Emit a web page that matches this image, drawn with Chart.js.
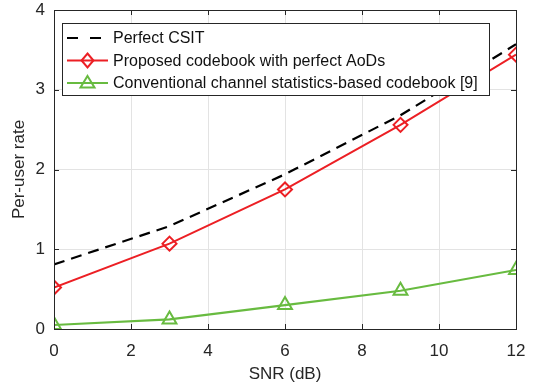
<!DOCTYPE html>
<html>
<head>
<meta charset="utf-8">
<script src="https://cdn.jsdelivr.net/npm/chart.js@4.4.1/dist/chart.umd.min.js"></script>
<style>
  html, body { margin: 0; padding: 0; background: #fff; }
  #wrap { width: 541px; height: 390px; }
</style>
</head>
<body>
<div id="wrap"><canvas id="chart" width="541" height="390"></canvas></div>
<script>
// data
const snr = [0, 3, 6, 9, 12];
const perfectCsit = [0.81, 1.29, 1.94, 2.68, 3.57];
const proposed = [0.52, 1.07, 1.75, 2.56, 3.44];
const conventional = [0.05, 0.12, 0.30, 0.48, 0.74];
const labels = [
  "Perfect CSIT",
  "Proposed codebook with perfect AoDs",
  "Conventional channel statistics-based codebook [9]"
];

const axisColor = "#262626";
const FONT = "'Liberation Sans', Arial, sans-serif";

function pts(ys) {
  return snr.map((x, i) => ({ x: x, y: ys[i] }));
}

// box around the axes + inward ticks, MATLAB style
const framePlugin = {
  id: "frame",
  afterDatasetsDraw(chart) {
    const { ctx, chartArea: a, scales } = chart;
    ctx.save();
    ctx.strokeStyle = axisColor;
    ctx.lineWidth = 1;
    ctx.strokeRect(a.left + 0.5, a.top + 0.5, a.right - a.left, a.bottom - a.top);
    const t = 5;
    ctx.beginPath();
    scales.x.ticks.forEach((tk) => {
      const px = Math.round(scales.x.getPixelForValue(tk.value)) + 0.5;
      ctx.moveTo(px, a.bottom); ctx.lineTo(px, a.bottom - t);
      ctx.moveTo(px, a.top); ctx.lineTo(px, a.top + t);
    });
    scales.y.ticks.forEach((tk) => {
      const py = Math.round(scales.y.getPixelForValue(tk.value)) + 0.5;
      ctx.moveTo(a.left, py); ctx.lineTo(a.left + t, py);
      ctx.moveTo(a.right, py); ctx.lineTo(a.right - t, py);
    });
    ctx.stroke();
    ctx.restore();
  }
};

// legend box drawn inside the plot, top-left
const legendPlugin = {
  id: "boxLegend",
  afterDraw(chart) {
    const { ctx, chartArea: a } = chart;
    const x0 = a.left + 8, y0 = a.top + 13, w = 427, h = 72;
    ctx.save();
    ctx.fillStyle = "#fff";
    ctx.fillRect(x0, y0, w, h);
    ctx.strokeStyle = axisColor;
    ctx.lineWidth = 1;
    ctx.strokeRect(x0 + 0.5, y0 + 0.5, w, h);
    ctx.font = "16px " + FONT;
    ctx.textBaseline = "middle";
    chart.data.datasets.forEach((ds, i) => {
      const y = y0 + 15 + i * 22.5;
      const lx0 = x0 + 5, lx1 = x0 + 46;
      ctx.strokeStyle = ds.borderColor;
      ctx.lineWidth = 2;
      ctx.setLineDash(ds.borderDash ? [11, 12] : []);
      ctx.beginPath();
      ctx.moveTo(lx0, y); ctx.lineTo(lx1, y);
      ctx.stroke();
      ctx.setLineDash([]);
      const mx = (lx0 + lx1) / 2;
      if (ds.pointStyle === "rectRot") {
        const r = 7;
        ctx.beginPath();
        ctx.moveTo(mx, y - r); ctx.lineTo(mx + r * 0.85, y);
        ctx.lineTo(mx, y + r); ctx.lineTo(mx - r * 0.85, y);
        ctx.closePath();
        ctx.stroke();
      } else if (ds.pointStyle === "triangle") {
        const r = 7;
        ctx.beginPath();
        ctx.moveTo(mx, y - r); ctx.lineTo(mx + r, y + r * 0.65);
        ctx.lineTo(mx - r, y + r * 0.65);
        ctx.closePath();
        ctx.stroke();
      }
      ctx.fillStyle = "#111";
      ctx.fillText(labels[i], x0 + 51, y + 1);
    });
    ctx.restore();
  }
};

new Chart(document.getElementById("chart"), {
  type: "line",
  data: {
    datasets: [
      {
        label: labels[0],
        data: pts(perfectCsit),
        borderColor: "#000000",
        borderWidth: 2.2,
        borderDash: [11, 7],
        pointRadius: 0,
        pointStyle: false,
      },
      {
        label: labels[1],
        data: pts(proposed),
        borderColor: "#ec1f24",
        borderWidth: 2,
        pointStyle: "rectRot",
        pointRadius: 7,
        pointBorderWidth: 2,
        pointBackgroundColor: "rgba(0,0,0,0)",
      },
      {
        label: labels[2],
        data: pts(conventional),
        borderColor: "#68bb40",
        borderWidth: 2.2,
        pointStyle: "triangle",
        pointRadius: 8,
        pointBorderWidth: 2,
        pointBackgroundColor: "rgba(0,0,0,0)",
      },
    ],
  },
  options: {
    responsive: false,
    animation: false,
    layout: { padding: { top: 7, right: 25, left: 0, bottom: 0 } },
    plugins: {
      legend: { display: false },
      tooltip: { enabled: false },
    },
    scales: {
      x: {
        type: "linear",
        min: 0,
        max: 12,
        ticks: { stepSize: 2, color: axisColor, font: { family: FONT, size: 17 }, padding: 12 },
        grid: { color: "#e3e3e3", drawTicks: false },
        border: { display: false },
        title: { display: true, text: "SNR (dB)", color: axisColor, font: { family: FONT, size: 17 }, padding: { top: 4, bottom: 5 } },
        afterFit: (s) => { s.height = 61; },
      },
      y: {
        min: 0,
        max: 4,
        ticks: { stepSize: 1, color: axisColor, font: { family: FONT, size: 17 }, padding: 9 },
        grid: { color: "#e3e3e3", drawTicks: false },
        border: { display: false },
        title: { display: true, text: "Per-user rate", color: axisColor, font: { family: FONT, size: 17 }, padding: { top: 9, bottom: 4 } },
        afterFit: (s) => { s.width = 54; s.paddingTop = 0; s.paddingBottom = 0; },
      },
    },
  },
  plugins: [framePlugin, legendPlugin],
});
</script>
</body>
</html>
